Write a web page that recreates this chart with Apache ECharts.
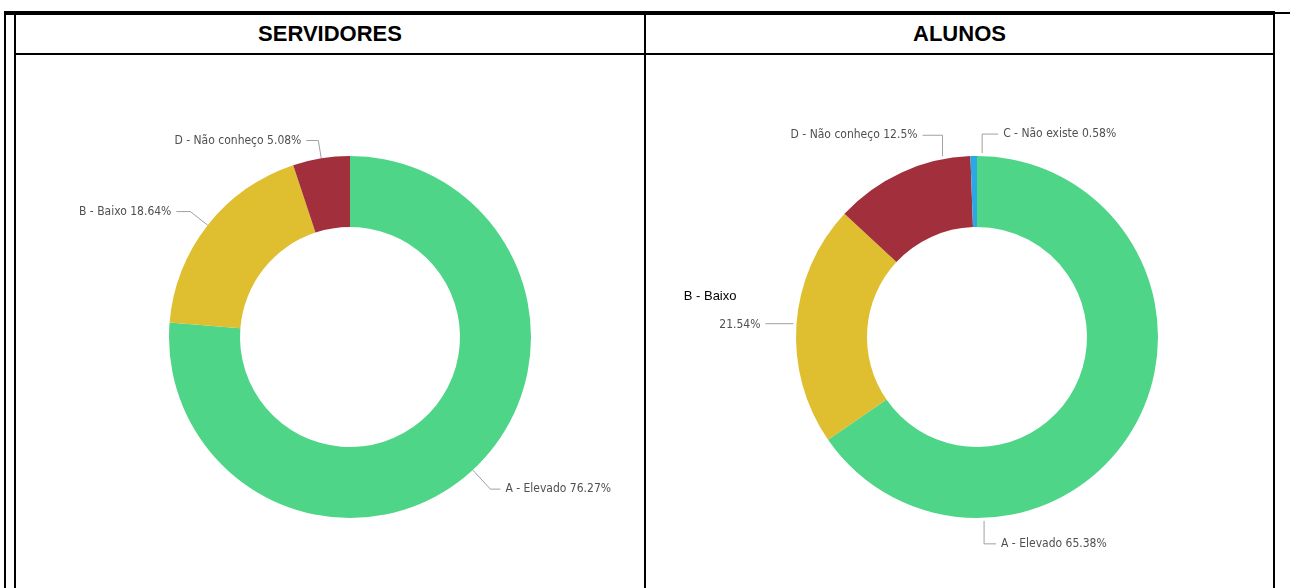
<!DOCTYPE html>
<html>
<head>
<meta charset="utf-8">
<script src="https://cdn.jsdelivr.net/npm/echarts@6/dist/echarts.min.js"></script>
<style>
  html, body { margin:0; padding:0; background:#fff; }
  #wrap { position:relative; width:1290px; height:588px; overflow:hidden; }
  .ln { position:absolute; background:#000; }
  .hd { position:absolute; top:14px; height:39px; line-height:39px; text-align:center;
        font-family:"Liberation Sans Narrow","Liberation Sans",sans-serif; font-weight:bold; font-size:22px; color:#000; }
  #chart { position:absolute; left:0; top:0; width:1290px; height:588px; }
</style>
</head>
<body>
<div id="wrap">
  <div class="ln" style="left:4px;top:11px;width:2px;height:577px;"></div>
  <div class="ln" style="left:14px;top:11px;width:2px;height:577px;"></div>
  <div class="ln" style="left:4px;top:11px;width:1271px;height:4px;"></div>
  <div class="ln" style="left:1273px;top:12px;width:17px;height:2px;"></div>
  <div class="ln" style="left:1273px;top:11px;width:2px;height:577px;"></div>
  <div class="ln" style="left:644px;top:11px;width:2px;height:577px;"></div>
  <div class="ln" style="left:14px;top:53px;width:1261px;height:2px;"></div>
  <div class="hd" id="h1" style="left:16px;width:628px;"></div>
  <div class="hd" id="h2" style="left:646px;width:627px;"></div>
  <div id="chart"></div>
</div>
<script>
const titles = ["SERVIDORES", "ALUNOS"];
const servNames = ["A - Elevado", "B - Baixo", "D - Não conheço"];
const servValues = [76.27, 18.64, 5.08];
const alunNames = ["A - Elevado", "B - Baixo", "D - Não conheço", "C - Não existe"];
const alunValues = [65.38, 21.54, 12.5, 0.58];

document.getElementById('h1').textContent = titles[0];
document.getElementById('h2').textContent = titles[1];

const colorMap = {
  "A - Elevado": "#4ED588",
  "B - Baixo": "#DFBF30",
  "D - Não conheço": "#A2303C",
  "C - Não existe": "#2BA9E6"
};

// layout / style settings
const PIE_CENTERS = [[350, 337], [977, 337]];
const R_IN = 110, R_OUT = 181;
const leftLineLen = {
  "A - Elevado": [26, 10],
  "B - Baixo": [22, 14],
  "D - Não conheço": [18, 12]
};
// leader-line guides for the right donut (angle in degrees clockwise from top, null = slice middle)
const rightGuides = {
  "A - Elevado": { angle: 177.8, v: 23, h: 12 },
  "B - Baixo": { angle: null, v: 0, h: -28 },
  "D - Não conheço": { angle: 349.2, v: -21, h: -20 },
  "C - Não existe": { angle: 1.6, v: -19, h: 16 }
};

function makeData(names, values, opts) {
  return names.map((n, i) => {
    const item = { name: n, value: values[i], itemStyle: { color: colorMap[n] } };
    if (opts.lens && opts.lens[n]) {
      item.labelLine = { length: opts.lens[n][0], length2: opts.lens[n][1] };
    }
    if (opts.special === n) {
      item.label = { formatter: '{n|{b}}\n\n{p|{c}%}' };
    }
    return item;
  });
}

const labelStyle = {
  show: true,
  position: 'outside',
  formatter: '{b} {c}%',
  fontFamily: '"DejaVu Sans Condensed", "DejaVu Sans", sans-serif',
  fontSize: 12,
  color: '#505050',
  rich: {
    n: { fontFamily: '"Liberation Sans", Arial, sans-serif', fontSize: 13, color: '#000', lineHeight: 16, padding: [0, 24, 0, 0] },
    p: { fontFamily: '"DejaVu Sans Condensed", "DejaVu Sans", sans-serif', fontSize: 12, color: '#505050', lineHeight: 16 }
  }
};
const lineStyle = { show: true, length: 16, length2: 14, lineStyle: { color: '#a0a0a0', width: 1 } };

function midAngle(values, idx) {
  const tot = values.reduce((a, b) => a + b, 0);
  let s = 0;
  for (let i = 0; i < idx; i++) s += values[i];
  return (s + values[idx] / 2) / tot * 360;
}

function rightLayout(params) {
  const name = alunNames[params.dataIndex];
  const g = rightGuides[name];
  if (!g) return {};
  const [cx, cy] = PIE_CENTERS[1];
  const a = (g.angle == null ? midAngle(alunValues, params.dataIndex) : g.angle) * Math.PI / 180;
  const gap = 3;
  const ax = cx + (R_OUT + gap) * Math.sin(a);
  const ay = cy - (R_OUT + gap) * Math.cos(a);
  const p1 = [ax, ay + g.v];
  const p2 = [p1[0] + g.h, p1[1]];
  const isB = name === "B - Baixo";
  return {
    x: p2[0] + (g.h < 0 ? -5 : 5),
    y: isB ? p2[1] + 9 : p2[1],
    align: g.h < 0 ? 'right' : 'left',
    verticalAlign: isB ? 'bottom' : 'middle',
    labelLinePoints: [[ax, ay], p1, p2]
  };
}

const chart = echarts.init(document.getElementById('chart'), null, { renderer: 'canvas' });
chart.setOption({
  animation: false,
  series: [
    {
      type: 'pie', center: PIE_CENTERS[0], radius: [R_IN, R_OUT], startAngle: 90, clockwise: true,
      avoidLabelOverlap: true,
      label: labelStyle, labelLine: lineStyle,
      data: makeData(servNames, servValues, { lens: leftLineLen })
    },
    {
      type: 'pie', center: PIE_CENTERS[1], radius: [R_IN, R_OUT], startAngle: 90, clockwise: true,
      avoidLabelOverlap: false,
      label: labelStyle, labelLine: lineStyle,
      labelLayout: rightLayout,
      data: makeData(alunNames, alunValues, { special: "B - Baixo" })
    }
  ]
});
</script>
</body>
</html>
